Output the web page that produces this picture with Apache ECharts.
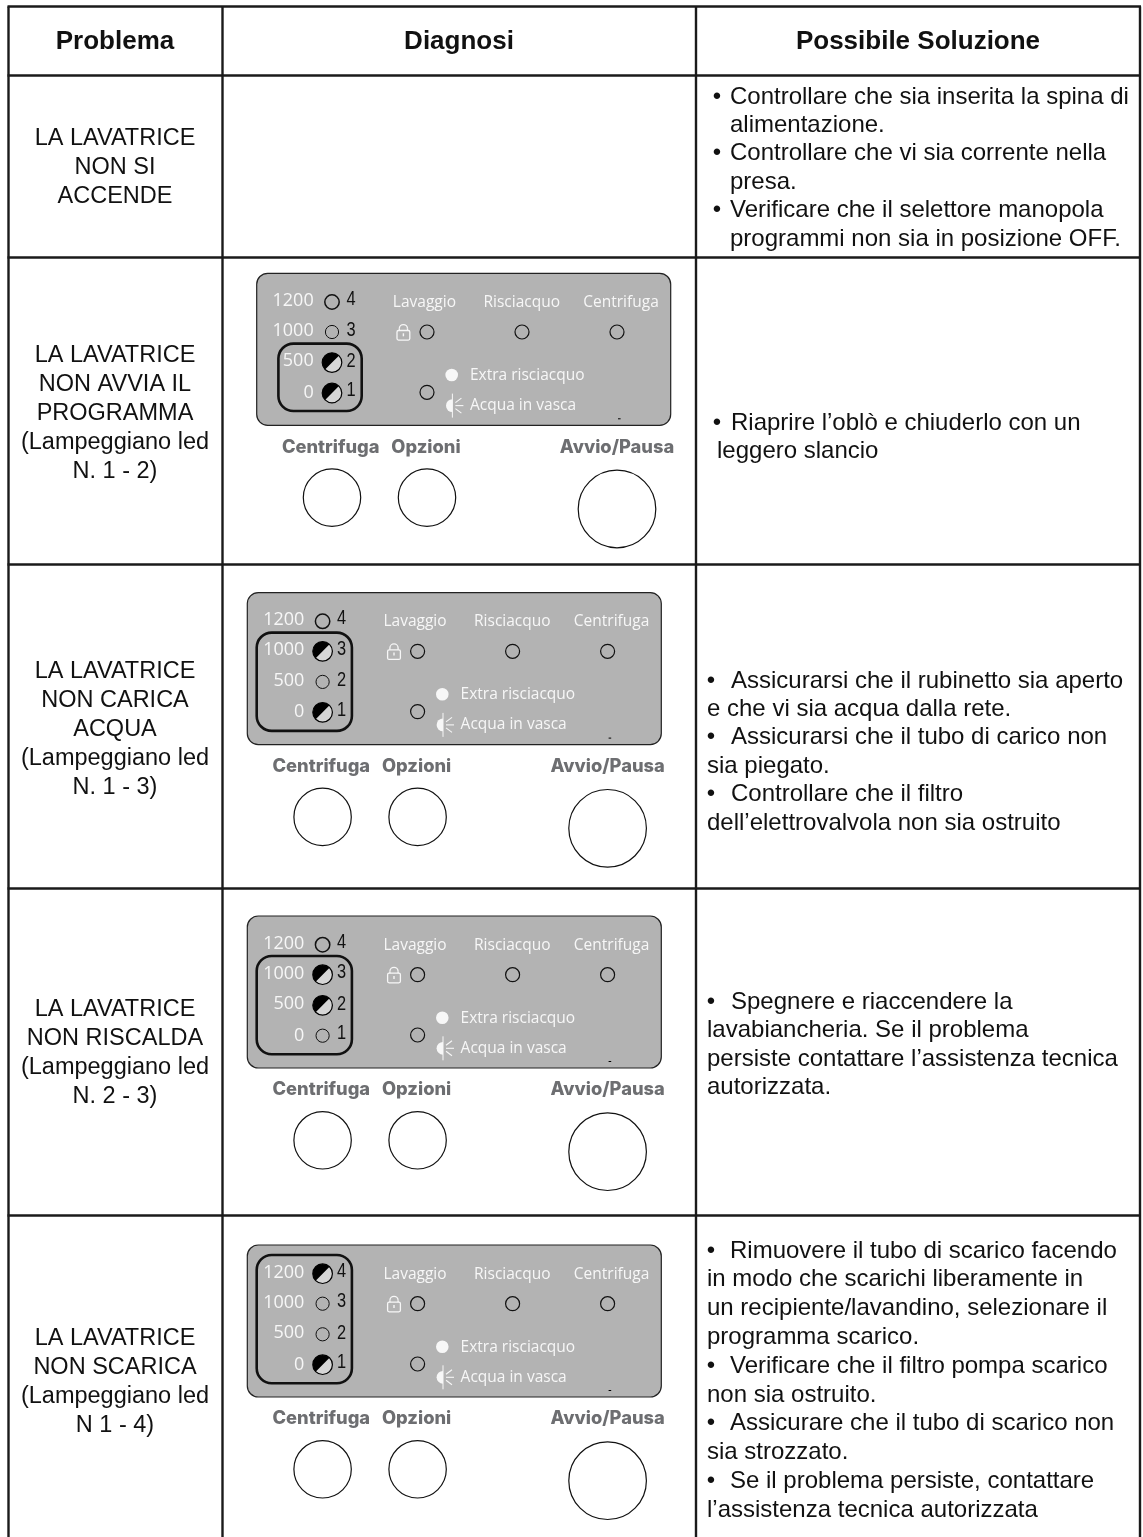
<!DOCTYPE html>
<html><head><meta charset="utf-8">
<style>html,body{margin:0;padding:0;background:#fff}#c{width:1143px;height:1537px}</style>
<script src="https://cdn.jsdelivr.net/npm/echarts@6/dist/echarts.min.js"></script>
</head><body><div id="c"></div>
<script>
const headers = ['Problema', 'Diagnosi', 'Possibile Soluzione'];
const problems = [
  ['LA LAVATRICE', 'NON SI', 'ACCENDE'],
  ['LA LAVATRICE', 'NON AVVIA IL', 'PROGRAMMA', '(Lampeggiano led', 'N. 1 - 2)'],
  ['LA LAVATRICE', 'NON CARICA', 'ACQUA', '(Lampeggiano led', 'N. 1 - 3)'],
  ['LA LAVATRICE', 'NON RISCALDA', '(Lampeggiano led', 'N. 2 - 3)'],
  ['LA LAVATRICE', 'NON SCARICA', '(Lampeggiano led', 'N 1 - 4)']
];
const solutions = [
  ['• Controllare che sia inserita la spina di', 'alimentazione.', '• Controllare che vi sia corrente nella', 'presa.', '• Verificare che il selettore manopola', 'programmi non sia in posizione OFF.'],
  ['• Riaprire l’oblò e chiuderlo con un', 'leggero slancio'],
  ['• Assicurarsi che il rubinetto sia aperto', 'e che vi sia acqua dalla rete.', '• Assicurarsi che il tubo di carico non', 'sia piegato.', '• Controllare che il filtro', 'dell’elettrovalvola non sia ostruito'],
  ['• Spegnere e riaccendere la', 'lavabiancheria. Se il problema', 'persiste contattare l’assistenza tecnica', 'autorizzata.'],
  ['• Rimuovere il tubo di scarico facendo', 'in modo che scarichi liberamente in', 'un recipiente/lavandino, selezionare il', 'programma scarico.', '• Verificare che il filtro pompa scarico', 'non sia ostruito.', '• Assicurare che il tubo di scarico non', 'sia strozzato.', '• Se il problema persiste, contattare', 'l’assistenza tecnica autorizzata']
];
const speedLabels = ['0', '500', '1000', '1200'];
const ledNumbers = ['1', '2', '3', '4'];
const phaseLabels = ['Lavaggio', 'Risciacquo', 'Centrifuga'];
const optionLabels = ['Extra risciacquo', 'Acqua in vasca'];
const buttonLabels = ['Centrifuga', 'Opzioni', 'Avvio/Pausa'];
const blinkingLeds = [null, [1, 2], [1, 3], [2, 3], [1, 4]];
const boxedLeds = [null, [1, 2], [1, 3], [1, 3], [1, 4]];

// ---- layout only ----
const colX = [8.5, 222.5, 696, 1140];
const rowY = [6.5, 75.5, 257.5, 564.5, 888.5, 1215.5, 1537];
const panelOrigin = [null, [256.7, 273.3], [247.3, 592.6], [247.3, 916], [247.3, 1245]];
const problemStartY = [139, 355.5, 671.5, 1010, 1338.5];
const solutionLayout = [
  {y: 97, bullet: 717, text: 730, cont: 730, lh: 28.4},
  {y: 423, bullet: 717, text: 731, cont: 717, lh: 28.4},
  {y: 681, bullet: 711, text: 731, cont: 707, lh: 28.4},
  {y: 1002, bullet: 711, text: 731, cont: 707, lh: 28.6},
  {y: 1251, bullet: 711, text: 730, cont: 707, lh: 28.8}
];
const els = [];
const ink = '#1a1a1a';
const sans = '"Liberation Sans", Arial, sans-serif';
function T(x, y, text, font, fill, align, scaleX) {
  if (scaleX) {
    els.push({type: 'text', silent: true, x, y, scaleX, style: {x: 0, y: 0, text, font, fill, textAlign: align || 'left', textVerticalAlign: 'middle'}});
  } else {
    els.push({type: 'text', silent: true, style: {x, y, text, font, fill, textAlign: align || 'left', textVerticalAlign: 'middle'}});
  }
}
function C(cx, cy, r, fill, stroke, lw) {
  els.push({type: 'circle', silent: true, shape: {cx, cy, r}, style: {fill, stroke, lineWidth: lw}});
}
function L(x1, y1, x2, y2, stroke, lw) {
  els.push({type: 'line', silent: true, shape: {x1, y1, x2, y2}, style: {stroke, lineWidth: lw}});
}
// grid
rowY.slice(0, 6).forEach(y => L(colX[0] - 1, y, colX[3] + 1, y, ink, 2.6));
colX.forEach(x => L(x, rowY[0], x, rowY[6], ink, 2.4));
// headers
const hx = [115, 459, 918];
headers.forEach((h, i) => T(hx[i], 41.5, h, 'bold 26px ' + sans, '#111', 'center'));
// problems
problems.forEach((lines, r) => lines.forEach((s, i) => T(115, problemStartY[r] + i * 29, s, '23.5px ' + sans, '#111', 'center')));
// solutions
const solFont = '24px ' + sans;
solutions.forEach((lines, r) => {
  const p = solutionLayout[r];
  lines.forEach((s, i) => {
    const y = p.y + i * p.lh;
    if (s.startsWith('• ')) {
      T(p.bullet, y, '•', solFont, '#111', 'center');
      T(p.text, y, s.slice(2), solFont, '#111', 'left');
    } else T(p.cont, y, s, solFont, '#111', 'left');
  });
});
// panels
const speedY = [119.5, 88, 57.5, 27.5];
const ledY = [119.7, 89.3, 58.7, 28.7];
const digitY = [117.5, 88, 56.7, 26];
const ledX = 75.3, white = '#f7f7f7';
const speedFont = '18px "Open Sans", sans-serif', labelFont = '15.5px "Open Sans", sans-serif';
panelOrigin.forEach((o, r) => {
  if (!o) return;
  const [px, py] = o;
  els.push({type: 'rect', silent: true, shape: {x: px, y: py, width: 414, height: 152, r: 11}, style: {fill: '#b3b3b3', stroke: '#222', lineWidth: 1.2}});
  const on = blinkingLeds[r], box = boxedLeds[r];
  // speed column
  speedLabels.forEach((s, i) => {
    T(px + 57, py + speedY[i], s, speedFont, white, 'right');
    T(px + 94.3, py + digitY[i], ledNumbers[i], '20.5px "Liberation Sans", sans-serif', '#111', 'center', 0.8);
    const cy = py + ledY[i];
    if (on.includes(i + 1)) {
      C(px + ledX, cy, 9.8, '#d6d6d6', '#000', 1.2);
      els.push({type: 'sector', silent: true, shape: {cx: px + ledX, cy, r0: 0, r: 9.8, startAngle: Math.PI * 0.75, endAngle: Math.PI * 1.75, clockwise: true}, style: {fill: '#000'}});
    } else C(px + ledX, cy, i === 3 ? 7.2 : 6.6, 'none', '#111', i === 3 ? 1.5 : 1);
  });
  // highlight
  const wide = box[1] - box[0] >= 2;
  els.push({type: 'rect', silent: true, shape: {
    x: px + (wide ? 9.4 : 21.7), y: py + (box[1] === 4 ? 10 : box[1] === 3 ? 40 : 70.3),
    width: wide ? 95.2 : 83.3, height: box[1] === 4 ? 128.3 : box[1] === 3 ? 98.3 : 67.4, r: 15},
    style: {fill: 'none', stroke: '#111', lineWidth: 2.6}});
  // phases
  const phaseX = [167.7, 265, 364.3], phaseLedX = [170.3, 265.3, 360.3];
  phaseLabels.forEach((s, i) => {
    T(px + phaseX[i], py + 29.3, s, labelFont, white, 'center');
    C(px + phaseLedX[i], py + 58.7, 7, 'none', '#111', 1.2);
  });
  // lock icon
  const lx = px + 146.7, ly = py + 59;
  els.push({type: 'rect', silent: true, shape: {x: lx - 6.4, y: ly - 1.8, width: 12.8, height: 9.6, r: 1.5}, style: {fill: 'none', stroke: white, lineWidth: 1.3}});
  els.push({type: 'arc', silent: true, shape: {cx: lx, cy: ly - 3.6, r: 4.1, startAngle: Math.PI, endAngle: 0, clockwise: true}, style: {fill: 'none', stroke: white, lineWidth: 1.3}});
  L(lx - 4.1, ly - 3.6, lx - 4.1, ly - 1.8, white, 1.3);
  L(lx + 4.1, ly - 3.6, lx + 4.1, ly - 1.8, white, 1.3);
  els.push({type: 'rect', silent: true, shape: {x: lx - 0.7, y: ly + 1, width: 1.4, height: 3}, style: {fill: white}});
  // options
  C(px + 170.3, py + 119, 7, 'none', '#111', 1.2);
  C(px + 195, py + 101.7, 6.3, white, white, 0);
  const sx = px + 195.7, sy = py + 132.3;
  els.push({type: 'sector', silent: true, shape: {cx: sx, cy: sy, r0: 0, r: 6.4, startAngle: Math.PI / 2, endAngle: Math.PI * 1.5, clockwise: true}, style: {fill: white}});
  L(sx, sy - 12, sx, sy + 12, white, 1);
  L(sx + 3, sy, sx + 11, sy, white, 1.1);
  L(sx + 3, sy - 3, sx + 9, sy - 7.5, white, 1.1);
  L(sx + 3, sy + 3, sx + 9, sy + 7.5, white, 1.1);
  optionLabels.forEach((s, i) => T(px + 213.3, py + (i ? 132.3 : 102.3), s, labelFont, white, 'left'));
  els.push({type: 'rect', silent: true, shape: {x: px + 361.3, y: py + 145, width: 2.6, height: 1}, style: {fill: '#000'}});
  // buttons
  const btnX = [74, 169.3, 360.3], circX = [75.3, 170.3, 360.3], circY = [224.3, 224.3, 235.7], circR = [28.7, 28.7, 38.8];
  buttonLabels.forEach((s, i) => {
    T(px + btnX[i], py + 174, s, '800 18.3px Inter, sans-serif', '#6d6e71', 'center');
    C(px + circX[i], py + circY[i], circR[i], '#fff', '#111', 1.2);
  });
});
const chart = echarts.init(document.getElementById('c'), null, {renderer: 'canvas'});
chart.setOption({animation: false, backgroundColor: '#fff', graphic: {elements: els}});
</script></body></html>
